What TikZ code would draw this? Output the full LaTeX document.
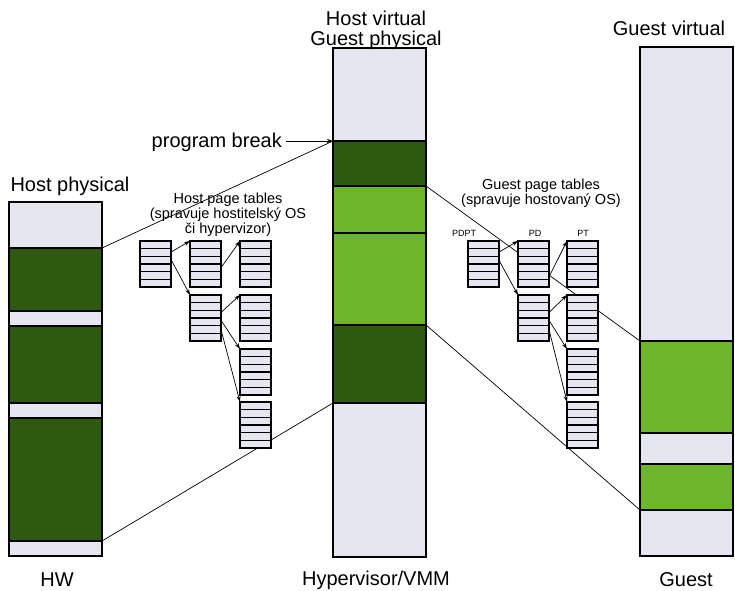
\documentclass[tikz,border=0pt]{standalone}
\usepackage{fontspec}
\setmainfont{Liberation Sans}
\usetikzlibrary{calc,arrows.meta}
\definecolor{lightfill}{RGB}{230,230,240}
\definecolor{darkgreen}{RGB}{45,90,15}
\definecolor{lightgreen}{RGB}{107,182,42}
\begin{document}
\begin{tikzpicture}[x=1pt,y=-1pt,
  seg/.style={draw=black, line width=2.4pt, inner sep=0pt, outer sep=0pt, anchor=north west, minimum width=93pt},
  lf/.style={seg, fill=lightfill},
  dg/.style={seg, fill=darkgreen},
  lg/.style={seg, fill=lightgreen},
  big/.style={inner sep=0pt, font=\fontsize{20}{24}\selectfont, anchor=base},
  small/.style={inner sep=0pt, font=\fontsize{14.5}{16}\selectfont, anchor=base},
  tiny/.style={inner sep=0pt, font=\fontsize{9}{10}\selectfont, anchor=base},
  conn/.style={line width=0.7pt, draw=black},
  tarr/.style={line width=0.7pt, -{Stealth[length=6pt,width=4pt]}},
  ptab/.style={draw=black, line width=2.6pt, fill=lightfill, anchor=north west,
    minimum width=31pt, minimum height=46pt, inner sep=0pt, outer sep=0pt,
    path picture={\foreach \k in {1,...,5}{
      \draw[line width=1.1pt] ($(path picture bounding box.north west)!\k/6!(path picture bounding box.south west)$)
        -- ($(path picture bounding box.north east)!\k/6!(path picture bounding box.south east)$);}}}
]
\useasboundingbox (0,0) rectangle (735,590);

% ---- left column (Host physical)
\node[lf, minimum height=46pt] (L1) at (9,202) {};
\node[dg, minimum height=63pt] (L2) at (9,248) {};
\node[lf, minimum height=15pt] (L3) at (9,311) {};
\node[dg, minimum height=77pt] (L4) at (9,326) {};
\node[lf, minimum height=15pt] (L5) at (9,403) {};
\node[dg, minimum height=123pt] (L6) at (9,418) {};
\node[lf, minimum height=15pt] (L7) at (9,541) {};

% ---- middle column (Host virtual / Guest physical)
\node[lf, minimum height=93pt] (M1) at (333,48) {};
\node[dg, minimum height=45pt] (M2) at (333,141) {};
\node[lg, minimum height=47pt] (M3) at (333,186) {};
\node[lg, minimum height=92pt] (M4) at (333,233) {};
\node[dg, minimum height=78pt] (M5) at (333,325) {};
\node[lf, minimum height=154pt] (M6) at (333,403) {};

% ---- right column (Guest virtual)
\node[lf, minimum height=294pt] (R1) at (640,47) {};
\node[lg, minimum height=92pt] (R2) at (640,341) {};
\node[lf, minimum height=31pt] (R3) at (640,433) {};
\node[lg, minimum height=46pt] (R4) at (640,464) {};
\node[lf, minimum height=46pt] (R5) at (640,510) {};

% ---- mapping lines
\draw[conn] (L2.north east) -- (M2.north west);
\draw[conn] (L6.south east) -- (M5.south west);
\draw[conn] (M3.north east) -- (R2.north west);
\draw[conn] (M4.south east) -- (R4.south west);

% ---- host page tables
\node[ptab] (T0) at (140,241) {};
\node[ptab] (T1) at (190,241) {};
\node[ptab] (T2) at (240,241) {};
\node[ptab] (T3) at (190,295) {};
\node[ptab] (T4) at (240,295) {};
\node[ptab] (T5) at (240,349) {};
\node[ptab] (T6) at (240,402) {};
\draw[tarr] ($(T0.north east)!0.24!(T0.south east)$) -- (T1.north west);
\draw[tarr] ($(T0.north east)!0.40!(T0.south east)$) -- (T3.north west);
\draw[tarr] ($(T1.north east)!0.58!(T1.south east)$) -- (T2.north west);
\draw[tarr] ($(T3.north east)!0.38!(T3.south east)$) -- (T4.north west);
\draw[tarr] ($(T3.north east)!0.55!(T3.south east)$) -- (T5.north west);
\draw[tarr] ($(T3.north east)!0.75!(T3.south east)$) -- (T6.north west);

% ---- guest page tables
\node[ptab] (G0) at (468,241) {};
\node[ptab] (G1) at (518,241) {};
\node[ptab] (G2) at (567,241) {};
\node[ptab] (G3) at (518,295) {};
\node[ptab] (G4) at (567,295) {};
\node[ptab] (G5) at (567,349) {};
\node[ptab] (G6) at (567,402) {};
\draw[tarr] ($(G0.north east)!0.24!(G0.south east)$) -- (G1.north west);
\draw[tarr] ($(G0.north east)!0.42!(G0.south east)$) -- (G3.north west);
\draw[tarr] ($(G1.north east)!0.78!(G1.south east)$) -- (G2.north west);
\draw[tarr] ($(G3.north east)!0.38!(G3.south east)$) -- (G4.north west);
\draw[tarr] ($(G3.north east)!0.55!(G3.south east)$) -- (G5.north west);
\draw[tarr] ($(G3.north east)!0.75!(G3.south east)$) -- (G6.north west);

% ---- program break
\node[big, anchor=base east] (pb) at (282,147) {program break};
\coordinate (pbs) at (286,141);
\draw[tarr] (pbs) -- (M2.north west);

% ---- titles
\node[big] (thp) at (70,191) {Host physical};
\node[big] (thv) at (376,25) {Host virtual};
\node[big] (tgp) at (376,45) {Guest physical};
\node[big] (tgv) at (669,35) {Guest virtual};
\node[big] (bhw) at (57,586) {HW};
\node[big] (bhv) at (376,585) {Hypervisor/VMM};
\node[big] (bg) at (686,586) {Guest};

\node[small] (hpt1) at (228,203) {Host page tables};
\node[small] (hpt2) at (228,218) {(spravuje hostitelský OS};
\node[small] (hpt3) at (228,233) {či hypervizor)};
\node[small] (gpt1) at (541,189) {Guest page tables};
\node[small] (gpt2) at (541,204) {(spravuje hostovaný OS)};

\node[tiny] (lpdpt) at (464,236) {PDPT};
\node[tiny] (lpd) at (535,236) {PD};
\node[tiny] (lpt) at (583,236) {PT};
\end{tikzpicture}
\end{document}
